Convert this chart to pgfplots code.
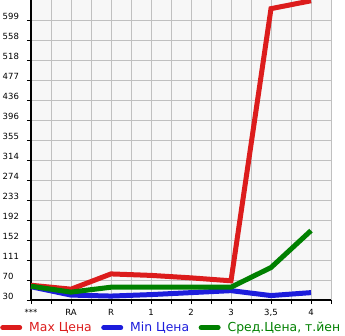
\documentclass[border=0pt]{standalone}
\usepackage{pgfplots}
\pgfplotsset{compat=1.18}
\usepackage{fontspec}
\setmainfont{DejaVu Sans}
\definecolor{cred}{RGB}{220,28,28}
\definecolor{cblue}{RGB}{28,28,220}
\definecolor{cgreen}{RGB}{0,128,0}
\definecolor{bgc}{RGB}{247,247,247}
\definecolor{gridc}{RGB}{192,192,192}
\begin{document}
\begin{tikzpicture}
\useasboundingbox (-31pt,-35pt) rectangle (314pt,300pt);
\begin{axis}[
  at={(0,0)}, anchor=south west,
  scale only axis, width=300pt, height=300pt,
  xmin=0, xmax=7.5, ymin=30, ymax=639.6,
  axis background/.style={fill=bgc},
  axis x line*=bottom, axis y line*=left,
  axis line style={line width=2.2pt, black, -},
  xtick={0,1,2,3,4,5,6,7},
  xticklabels={***,RA,R,1,2,3,{3,5},4},
  minor xtick={0.5,1.5,2.5,3.5,4.5,5.5,6.5,7.5},
  ytick={30,70.64,111.28,151.92,192.56,233.2,273.84,314.48,355.12,395.76,436.4,477.04,517.68,558.32,598.96},
  yticklabels={30,70,111,152,192,233,274,314,355,396,436,477,518,558,599},
  grid=both,
  major grid style={gridc, line width=0.8pt},
  minor grid style={gridc, line width=0.8pt},
  tick style={black, line width=0.8pt},
  major tick length=4pt, minor tick length=4pt,
  tick align=outside,
  /pgf/number format/assume math mode=true,
  ticklabel style={font=\fontsize{8.5}{9}\selectfont},
  xticklabel style={yshift=-1.5pt},
  yticklabel style={anchor=west, xshift=-24.5pt, yshift=3.5pt, inner sep=0pt},
  clip=false,
  legend columns=3,
  legend style={at={(0,0)}, anchor=north west, xshift=-31pt, yshift=-20pt,
    draw=none, fill=none, font=\fontsize{12.4}{13}\selectfont, inner sep=0pt,
    /tikz/every even column/.append style={column sep=7.5pt},
    /tikz/every odd column/.append style={column sep=5pt}},
  legend image code/.code={\draw[#1, line width=5pt, line cap=round] (2.5pt,0pt) -- (19.5pt,0pt);},
]
\addplot[cred, line width=5pt] coordinates {(0,60) (1,52) (2,83) (3,80) (4,75) (5,69) (6,622) (7,638)};
\addlegendentry{\textcolor{cred}{Max Цена}}
\addplot[cblue, line width=5pt] coordinates {(0,57) (1,40) (2,38) (3,41) (4,45) (5,49) (6,39) (7,45)};
\addlegendentry{\textcolor{cblue}{Min Цена}}
\addplot[cgreen, line width=5pt] coordinates {(0,58) (1,46) (2,56) (3,56) (4,56) (5,56) (6,96) (7,171)};
\addlegendentry{\textcolor{cgreen}{Сред.Цена, т.йен}}
\end{axis}
\end{tikzpicture}
\end{document}
